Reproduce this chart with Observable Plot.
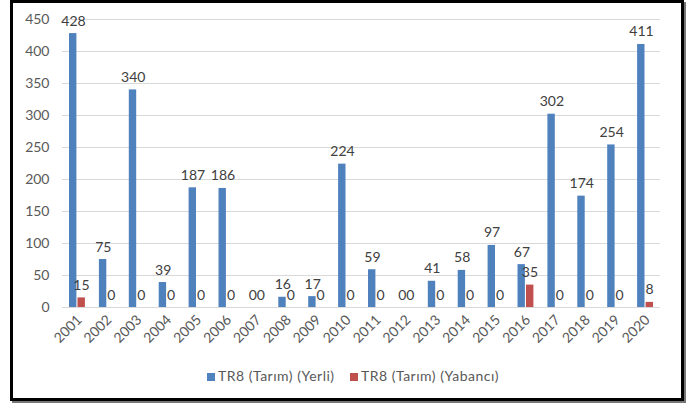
<!DOCTYPE html>
<html><head><meta charset="utf-8">
<script src="https://cdn.jsdelivr.net/npm/d3@7"></script>
<script src="https://cdn.jsdelivr.net/npm/@observablehq/plot@0.6"></script>
<style>
body{margin:0;background:#fff;}
#wrap{position:relative;width:687px;height:405px;overflow:hidden;font-family:Lato,"Liberation Sans",sans-serif;}
#frame{position:absolute;left:10px;top:0px;width:668px;height:395px;border:3px solid #000;box-shadow:2px 2px 0 #777;}
#chart{position:absolute;left:0;top:0;}
#legend{position:absolute;top:367px;left:0;width:687px;font-size:14px;letter-spacing:0.5px;color:#595959;}
.item{position:absolute;white-space:nowrap;}
.sw{display:inline-block;width:8px;height:8px;margin-right:3px;vertical-align:0px;}
</style></head>
<body><div id="wrap"><div id="frame"></div><div id="chart"></div>
<div id="legend"><span class="item" style="left:207px"><span class="sw" style="background:#4F81BD"></span>TR8 (Tarım) (Yerli)</span><span class="item" style="left:350px"><span class="sw" style="background:#C0504D"></span>TR8 (Tarım) (Yabancı)</span></div>
</div>
<script>
const years = ["2001","2002","2003","2004","2005","2006","2007","2008","2009","2010","2011","2012","2013","2014","2015","2016","2017","2018","2019","2020"];
const yerli = [428,75,340,39,187,186,0,16,17,224,59,0,41,58,97,67,302,174,254,411];
const yabanci = [15,0,0,0,0,0,0,0,0,0,0,0,0,0,0,35,0,0,0,8];
const yTicks = [0,50,100,150,200,250,300,350,400,450];

const dY = years.map((y,i)=>({year:y, v:yerli[i]}));
const dR = years.map((y,i)=>({year:y, v:yabanci[i]}));

const chart = Plot.plot({
  width:687, height:350,
  marginLeft:62, marginRight:27, marginTop:19, marginBottom:43,
  style:{fontFamily:"Lato, 'Liberation Sans', sans-serif", fontSize:"14px", background:"transparent"},
  x:{domain:years, padding:0, round:false, label:null},
  y:{domain:[0,450], label:null},
  marks:[
    Plot.gridY(yTicks,{stroke:"#d9d9d9", strokeOpacity:1}),
    Plot.axisY(yTicks,{tickSize:0, tickPadding:13, fill:"#595959", fontSize:14, label:null}),
    Plot.axisX({tickRotate:-45, tickSize:0, tickPadding:10, dx:2, fill:"#595959", fontSize:14, label:null}),
    Plot.barY(dY,{x:"year", y:"v", fill:"#4F81BD", insetLeft:7, insetRight:15.5}),
    Plot.barY(dR,{x:"year", y:"v", fill:"#C0504D", insetLeft:15.5, insetRight:7}),
    Plot.text(dY,{x:"year", y:"v", text:d=>String(d.v), dx:-4, dy:-8, lineAnchor:"bottom", fill:"#404040", fontSize:14}),
    Plot.text(dR,{x:"year", y:"v", text:d=>String(d.v), dx:4, dy:-8, lineAnchor:"bottom", fill:"#404040", fontSize:14})
  ]
});
document.getElementById("chart").appendChild(chart);
</script></body></html>
